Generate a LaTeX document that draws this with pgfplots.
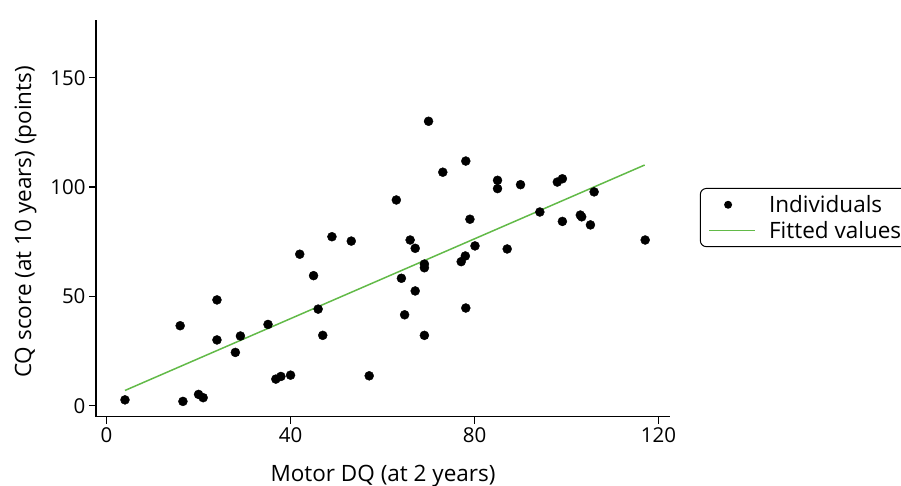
\documentclass[border=0pt]{standalone}
\usepackage{fontspec}
\setmainfont{Open Sans}
\usepackage{pgfplots}
\pgfplotsset{compat=1.18}
\definecolor{fitgreen}{RGB}{98,186,72}
\newcommand{\chartfont}{\fontsize{22.5}{27}\selectfont}
\newcommand{\tickfont}{\fontsize{20.5}{24}\selectfont}
\begin{document}
\begin{tikzpicture}[x=1pt,y=1pt]
\useasboundingbox (-96,-68.3) rectangle (805,416.7);
\begin{axis}[
  at={(0,0)}, anchor=south west,
  scale only axis, width=574pt, height=396.7pt,
  xmin=-2.3, xmax=122.5, ymin=-5, ymax=176.4,
  axis lines=left,
  axis line style={line width=1.4pt, -},
  xtick={0,40,80,120}, ytick={0,50,100,150},
  tick align=outside, major tick length=7pt,
  tick style={black, line width=1.2pt},
  /pgf/number format/assume math mode=true,
  ticklabel style={font=\tickfont},
  label style={font=\chartfont},
  xlabel={Motor DQ (at 2 years)},
  ylabel={CQ score (at 10 years) (points)},
  xlabel style={at={(axis description cs:0.5,0)}, anchor=base, yshift=-64.3pt},
  ylabel style={at={(axis description cs:-0.1132,0.491)}, anchor=base},
  legend cell align=left,
  legend style={at={(axis description cs:1.052,0.502)}, anchor=west,
    draw=black, line width=1pt, rounded corners=6pt, font=\chartfont,
    inner xsep=8pt, inner ysep=5pt, row sep=3pt},
  clip=false,
]
\addplot[only marks, mark=*, mark size=4.5pt, black,
  legend image code/.code={\fill[black, draw=none] (19pt,0pt) circle (4pt); \path[draw=none] (0pt,0pt) -- (58pt,0pt);}]
  table {
x y
4.0 2.7
16.0 36.6
16.6 2.0
20.0 5.2
21.0 3.7
24.0 48.4
24.0 30.1
28.0 24.4
29.1 31.9
35.1 37.2
36.8 12.2
37.9 13.4
40.0 14.0
42.0 69.3
45.0 59.5
46.0 44.2
47.0 32.2
49.0 77.3
53.2 75.3
57.1 13.7
63.0 94.1
64.1 58.3
64.8 41.6
66.0 75.8
67.1 72.0
67.1 52.5
69.1 64.8
69.1 63.1
69.1 32.2
70.0 130.1
73.1 106.8
77.1 65.9
78.0 68.5
78.1 111.9
78.1 44.7
79.0 85.3
80.1 73.1
85.0 103.1
85.0 99.3
87.1 71.7
90.0 101.1
94.2 88.6
98.0 102.3
99.1 103.8
99.1 84.3
103.0 87.2
103.3 86.4
105.2 82.7
106.0 97.8
117.1 75.8
};
\addlegendentry{Individuals}
\addplot[fitgreen, line width=1.5pt,
  legend image code/.code={\draw[draw=fitgreen, line width=1.5pt] (0pt,0pt) -- (46pt,0pt); \path[draw=none] (0pt,0pt) -- (58pt,0pt);}]
  coordinates {(4,7.0) (117,110.1)};
\addlegendentry{Fitted values}
\end{axis}
\end{tikzpicture}
\end{document}
